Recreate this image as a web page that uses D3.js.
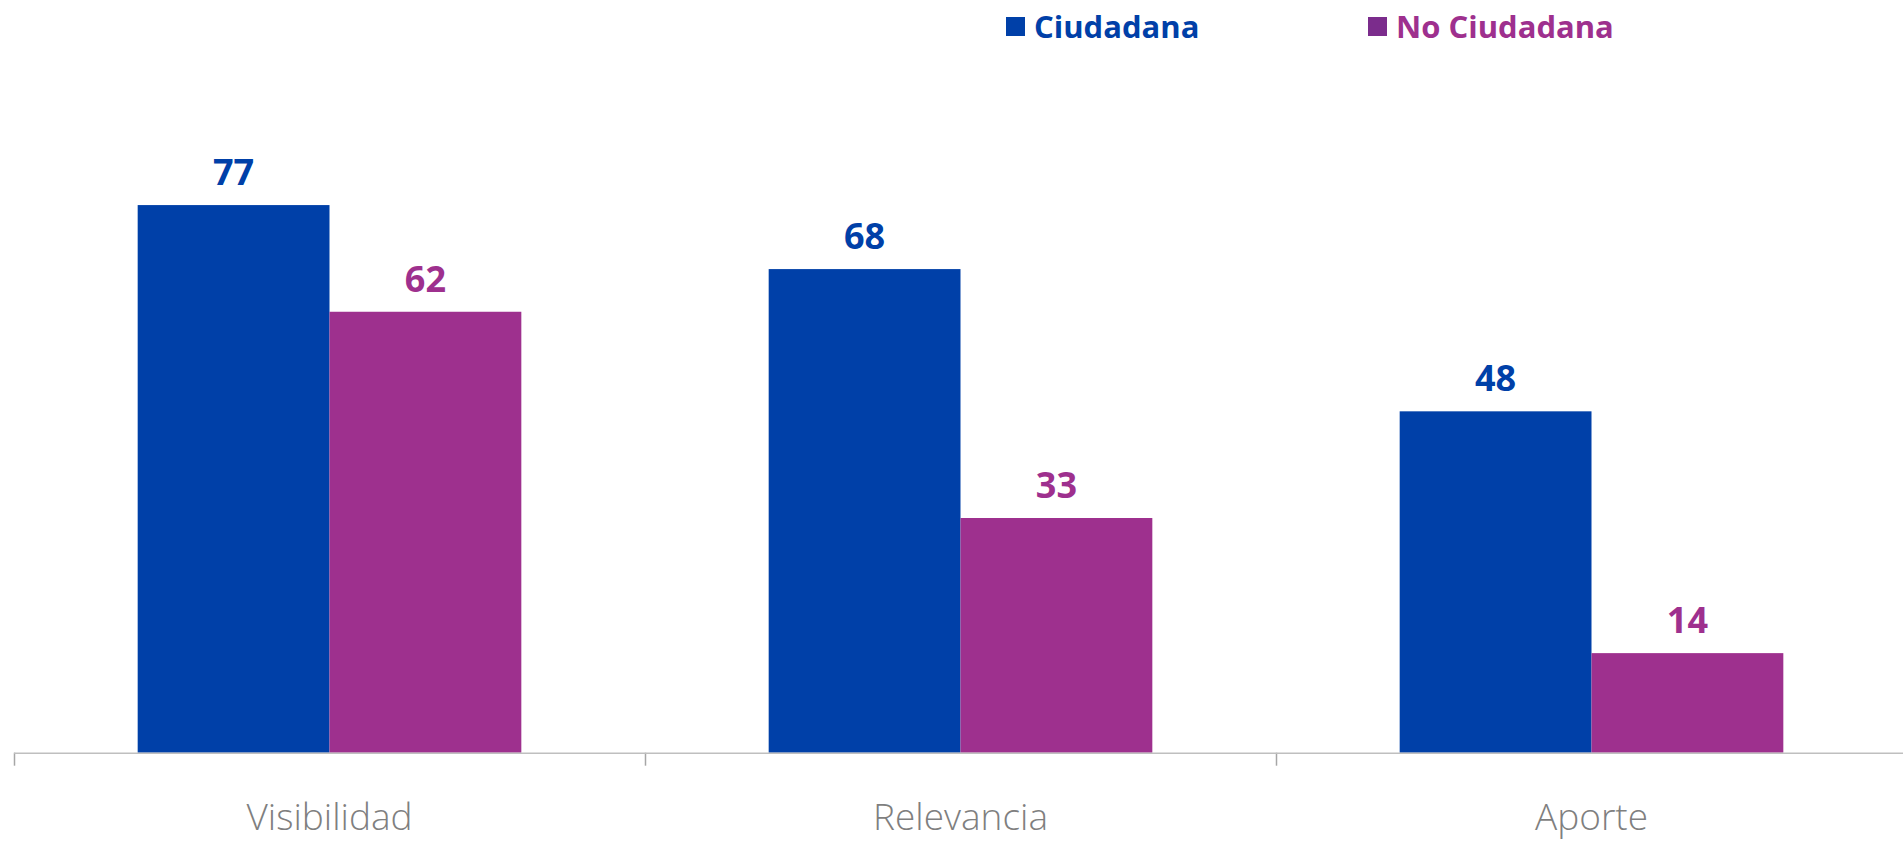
<!DOCTYPE html>
<html>
<head>
<meta charset="utf-8">
<script src="https://cdn.jsdelivr.net/npm/d3@7/dist/d3.min.js"></script>
<style>
    html, body { margin: 0; padding: 0; background: #ffffff; }
    #chart { width: 1903px; height: 842px; }
    text { font-family: "Open Sans", "Noto Sans", sans-serif; }
</style>
</head>
<body>
<div id="chart"></div>
<script>
// Chart data
var categories = ["Visibilidad", "Relevancia", "Aporte"];
var seriesNames = ["Ciudadana", "No Ciudadana"];
var ciudadana = [77, 68, 48];
var noCiudadana = [62, 33, 14];

var barColors = ["#0040a8", "#9e308e"];
var legendSquareColors = ["#0040a8", "#7b2c8c"];

var svg = d3.select("#chart").append("svg")
    .attr("width", 1903)
    .attr("height", 842);

// Plot area
var margin = {left: 14, right: -4, top: 41.5, bottom: 89.3};
var width = 1903 - margin.left - margin.right;
var height = 842 - margin.top - margin.bottom;

var chart = svg.append("g")
    .attr("transform", "translate(" + margin.left + "," + margin.top + ")");

// Category scale and series scale inside each category
var x0 = d3.scaleBand()
    .domain(categories)
    .range([0, width])
    .paddingInner(0.392)
    .paddingOuter(0.196);

var x1 = d3.scaleBand()
    .domain(seriesNames)
    .range([0, x0.bandwidth()]);

var y = d3.scaleLinear()
    .domain([0, 100])
    .range([height, 0]);

// Build rows from the arrays
var rows = categories.map(function(c, i) {
    return {
        category: c,
        values: [
            {name: seriesNames[0], value: ciudadana[i], idx: 0},
            {name: seriesNames[1], value: noCiudadana[i], idx: 1}
        ]
    };
});

var groups = chart.selectAll("g.cat")
    .data(rows)
    .enter()
    .append("g")
    .classed("cat", true)
    .attr("transform", function(d) { return "translate(" + x0(d.category) + ",0)"; });

groups.selectAll("rect.bar")
    .data(function(d) { return d.values; })
    .enter()
    .append("rect")
    .classed("bar", true)
    .attr("x", function(d) { return x1(d.name); })
    .attr("width", x1.bandwidth())
    .attr("y", function(d) { return y(d.value); })
    .attr("height", function(d) { return height - y(d.value); })
    .attr("fill", function(d) { return barColors[d.idx]; });

// Value labels on top of bars
groups.selectAll("text.val")
    .data(function(d) { return d.values; })
    .enter()
    .append("text")
    .classed("val", true)
    .attr("x", function(d) { return x1(d.name) + x1.bandwidth() / 2; })
    .attr("y", function(d) { return y(d.value) - 20; })
    .attr("text-anchor", "middle")
    .style("font-size", "36px")
    .style("font-weight", "bold")
    .attr("fill", function(d) { return barColors[d.idx]; })
    .text(function(d) { return d.value; });

// X axis: category boundary ticks
var boundary = d3.scaleLinear()
    .domain([0, categories.length])
    .range([0, x0.step() * categories.length]);

var xTicks = chart.append("g")
    .classed("x axis", true)
    .attr("transform", "translate(0," + height + ")")
    .call(d3.axisBottom(boundary)
        .tickValues(d3.range(categories.length + 1))
        .tickSize(13)
        .tickSizeOuter(0)
        .tickFormat(""));

xTicks.select(".domain").remove();
xTicks.selectAll("line")
    .attr("stroke", "#a6a6a6")
    .attr("stroke-width", 1.5);

chart.append("line")
    .attr("x1", 0)
    .attr("x2", width)
    .attr("y1", height + 0.5)
    .attr("y2", height + 0.5)
    .attr("stroke", "#bfbfbf")
    .attr("stroke-width", 1.5);

// Category labels
var xLabels = chart.append("g")
    .attr("transform", "translate(0," + height + ")")
    .call(d3.axisBottom(x0).tickSize(0));

xLabels.select(".domain").remove();
xLabels.selectAll("text")
    .attr("y", 77)
    .attr("dy", 0)
    .style("font-size", "37px")
    .style("font-weight", "300")
    .style("font-family", "'Open Sans', sans-serif")
    .attr("fill", "#7f7f7f");

// Legend
var legendX = [1006, 1368];
var legend = svg.append("g").classed("legend", true);

var items = legend.selectAll("g.item")
    .data(seriesNames)
    .enter()
    .append("g")
    .classed("item", true)
    .attr("transform", function(d, i) { return "translate(" + legendX[i] + ",0)"; });

items.append("rect")
    .attr("x", 0)
    .attr("y", 17)
    .attr("width", 19)
    .attr("height", 19)
    .attr("fill", function(d, i) { return legendSquareColors[i]; });

items.append("text")
    .attr("x", 28)
    .attr("y", 37.5)
    .style("font-size", "31px")
    .style("font-weight", "bold")
    .attr("fill", function(d, i) { return barColors[i]; })
    .text(function(d) { return d; });
</script>
</body>
</html>
